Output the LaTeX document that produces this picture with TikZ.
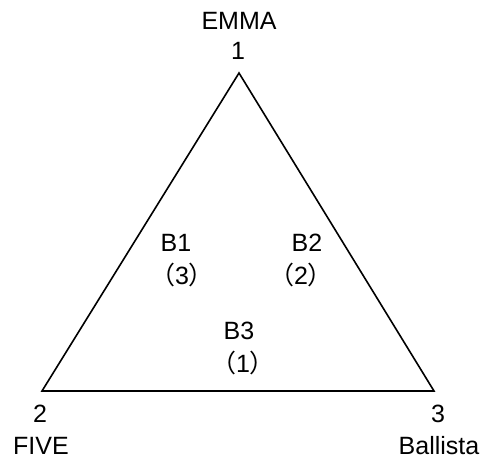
\documentclass[tikz,border=0pt]{standalone}
\usepackage{fontspec}
\setmainfont{Liberation Sans}
\newfontfamily\cjk{Noto Sans CJK JP}
\begin{document}
\begin{tikzpicture}[x=1pt,y=-1pt,
 lbl/.style={inner sep=0pt,font=\fontsize{25}{28}\selectfont}]
 \useasboundingbox (0,0) rectangle (482,460);
 \coordinate (v1) at (239,73);
 \coordinate (v2) at (42,391);
 \coordinate (v3) at (434,391);
 \draw[line width=1.6pt,line join=miter] (v1)--(v2)--(v3)--cycle;
 \node[lbl] (emma) at (239,21) {EMMA};
 \node[lbl] (n1) at (238,51) {1};
 \node[lbl] (n2) at (40,414) {2};
 \node[lbl] (five) at (41,446) {FIVE};
 \node[lbl] (n3) at (438,414) {3};
 \node[lbl] (ballista) at (439,446) {Ballista};
 \node[lbl] (b1) at (176,243) {B1};
 \node[lbl] (p3) at (182,275) {{\cjk （}3{\cjk ）}};
 \node[lbl] (b2) at (307,243) {B2};
 \node[lbl] (p2) at (301,275) {{\cjk （}2{\cjk ）}};
 \node[lbl] (b3) at (239,331) {B3};
 \node[lbl] (p1) at (243,363) {{\cjk （}1{\cjk ）}};
\end{tikzpicture}
\end{document}
